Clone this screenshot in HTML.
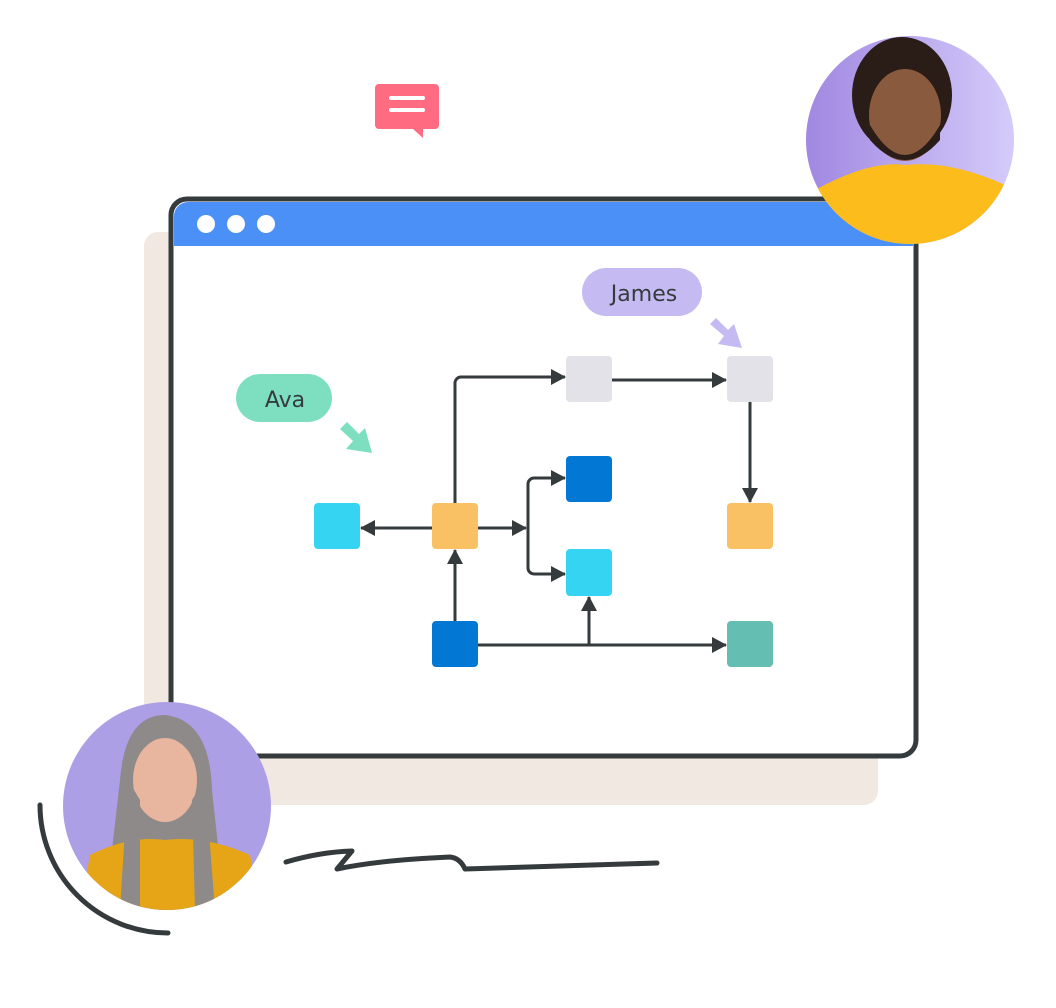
<!DOCTYPE html>
<html><head><meta charset="utf-8"><style>
html,body{margin:0;padding:0;background:#fff;width:1056px;height:1008px;overflow:hidden}
svg{display:block}
text{font-family:"DejaVu Sans","Liberation Sans",sans-serif}
</style></head><body>
<svg width="1056" height="1008" viewBox="0 0 1056 1008" xmlns="http://www.w3.org/2000/svg">
<defs>
<marker id="ah" markerWidth="15" markerHeight="16" refX="14" refY="8" orient="auto" markerUnits="userSpaceOnUse" viewBox="0 0 15 16">
<path d="M0,0 L15,8 L0,16 Z" fill="#353b3c"/></marker>
<clipPath id="c1"><circle cx="910" cy="140" r="104"/></clipPath>
<clipPath id="c2"><circle cx="167" cy="806" r="104"/></clipPath>
<linearGradient id="g1" x1="0" x2="1"><stop offset="0" stop-color="#9f86e0"/><stop offset="1" stop-color="#d6cdfb"/></linearGradient>
</defs>
<rect x="144" y="232" width="734" height="573" rx="14" fill="#f2e8e2"/>
<rect x="171" y="199" width="745" height="557" rx="16" fill="#fff" stroke="#353b3c" stroke-width="5"/>
<path d="M174,246 V216 a14,14 0 0 1 14,-14 H899 a14,14 0 0 1 14,14 V246 Z" fill="#4a90f6"/>
<circle cx="206" cy="224" r="9" fill="#fff"/><circle cx="236" cy="224" r="9" fill="#fff"/><circle cx="266" cy="224" r="9" fill="#fff"/>
<path d="M379,84 H435 a4,4 0 0 1 4,4 V125 a4,4 0 0 1 -4,4 H423 V138 L413,129 H379 a4,4 0 0 1 -4,-4 V88 a4,4 0 0 1 4,-4Z" fill="#ff6b81"/>
<rect x="389" y="96" width="36" height="4" rx="2" fill="#fff"/><rect x="389" y="108" width="36" height="4" rx="2" fill="#fff"/>
<g stroke="#353b3c" stroke-width="3" fill="none">
<path d="M455,503 V383 a6,6 0 0 1 6,-6 H565" marker-end="url(#ah)"/>
<path d="M612,380 H726" marker-end="url(#ah)"/>
<path d="M750,402 V502" marker-end="url(#ah)"/>
<path d="M432,528 H361" marker-end="url(#ah)"/>
<path d="M478,528 H526" marker-end="url(#ah)"/>
<path d="M528,528 V484 a6,6 0 0 1 6,-6 H565" marker-end="url(#ah)"/>
<path d="M528,528 V568 a6,6 0 0 0 6,6 H565" marker-end="url(#ah)"/>
<path d="M455,621 V550" marker-end="url(#ah)"/>
<path d="M478,645 H726" marker-end="url(#ah)"/>
<path d="M589,645 V597" marker-end="url(#ah)"/>
</g>
<rect x="314" y="503" width="46" height="46" rx="4" fill="#35d4f3"/>
<rect x="432" y="503" width="46" height="46" rx="4" fill="#f9c064"/>
<rect x="566" y="356" width="46" height="46" rx="4" fill="#e3e2e8"/>
<rect x="727" y="356" width="46" height="46" rx="4" fill="#e3e2e8"/>
<rect x="566" y="456" width="46" height="46" rx="4" fill="#0278d4"/>
<rect x="566" y="549" width="46" height="47" rx="4" fill="#35d4f3"/>
<rect x="727" y="503" width="46" height="46" rx="4" fill="#f9c064"/>
<rect x="432" y="621" width="46" height="46" rx="4" fill="#0278d4"/>
<rect x="727" y="621" width="46" height="46" rx="4" fill="#64beb1"/>
<rect x="582" y="268" width="120" height="48" rx="24" fill="#c5bbf2"/>
<text x="644" y="301" font-size="22" text-anchor="middle" fill="#353b3c">James</text>
<path d="M716,318 L728,330 L734,324 L742,348 L718,344 L724,336 L710,324Z" fill="#c5bbf2"/>
<rect x="236" y="374" width="96" height="48" rx="24" fill="#7edfc0"/>
<text x="285" y="407" font-size="22" text-anchor="middle" fill="#353b3c">Ava</text>
<path d="M347,422 L359,434 L365,428 L372,453 L346,449 L353,441 L340,429Z" fill="#7edfc0"/>
<g clip-path="url(#c1)">
<rect x="800" y="30" width="220" height="220" fill="url(#g1)"/>
<ellipse cx="902" cy="95" rx="50" ry="58" fill="#2a1c16"/>
<ellipse cx="905" cy="115" rx="36" ry="46" fill="#8a5a3e"/>
<path d="M870,125 Q905,185 940,125 L940,140 Q905,180 870,140Z" fill="#2a1c16"/>
<path d="M800,250 L815,190 Q870,160 905,165 Q950,160 1005,185 L1020,250Z" fill="#fbbc1c"/>
</g>
<path d="M40,805 A128,128 0 0 0 168,933" stroke="#353b3c" stroke-width="5" fill="none" stroke-linecap="round"/>
<g clip-path="url(#c2)">
<rect x="60" y="700" width="215" height="215" fill="#ad9fe6"/>
<path d="M120,780 Q125,715 165,715 Q210,720 212,790 L225,910 L105,910Z" fill="#8e8a8a"/>
<ellipse cx="165" cy="780" rx="32" ry="42" fill="#e8b59e"/>
<path d="M80,910 L90,855 Q130,835 165,840 Q205,835 250,855 L260,910Z" fill="#e6a516"/>
<path d="M128,780 L120,910 L140,910 L140,800Z M205,780 L215,910 L195,910 L192,800Z" fill="#8e8a8a"/>
</g>
<path d="M286,862 Q320,852 352,851 L337,869 Q380,860 450,857 Q460,858 465,869 L657,863" stroke="#353b3c" stroke-width="5" fill="none" stroke-linecap="round" stroke-linejoin="round"/>
</svg>
</body></html>
